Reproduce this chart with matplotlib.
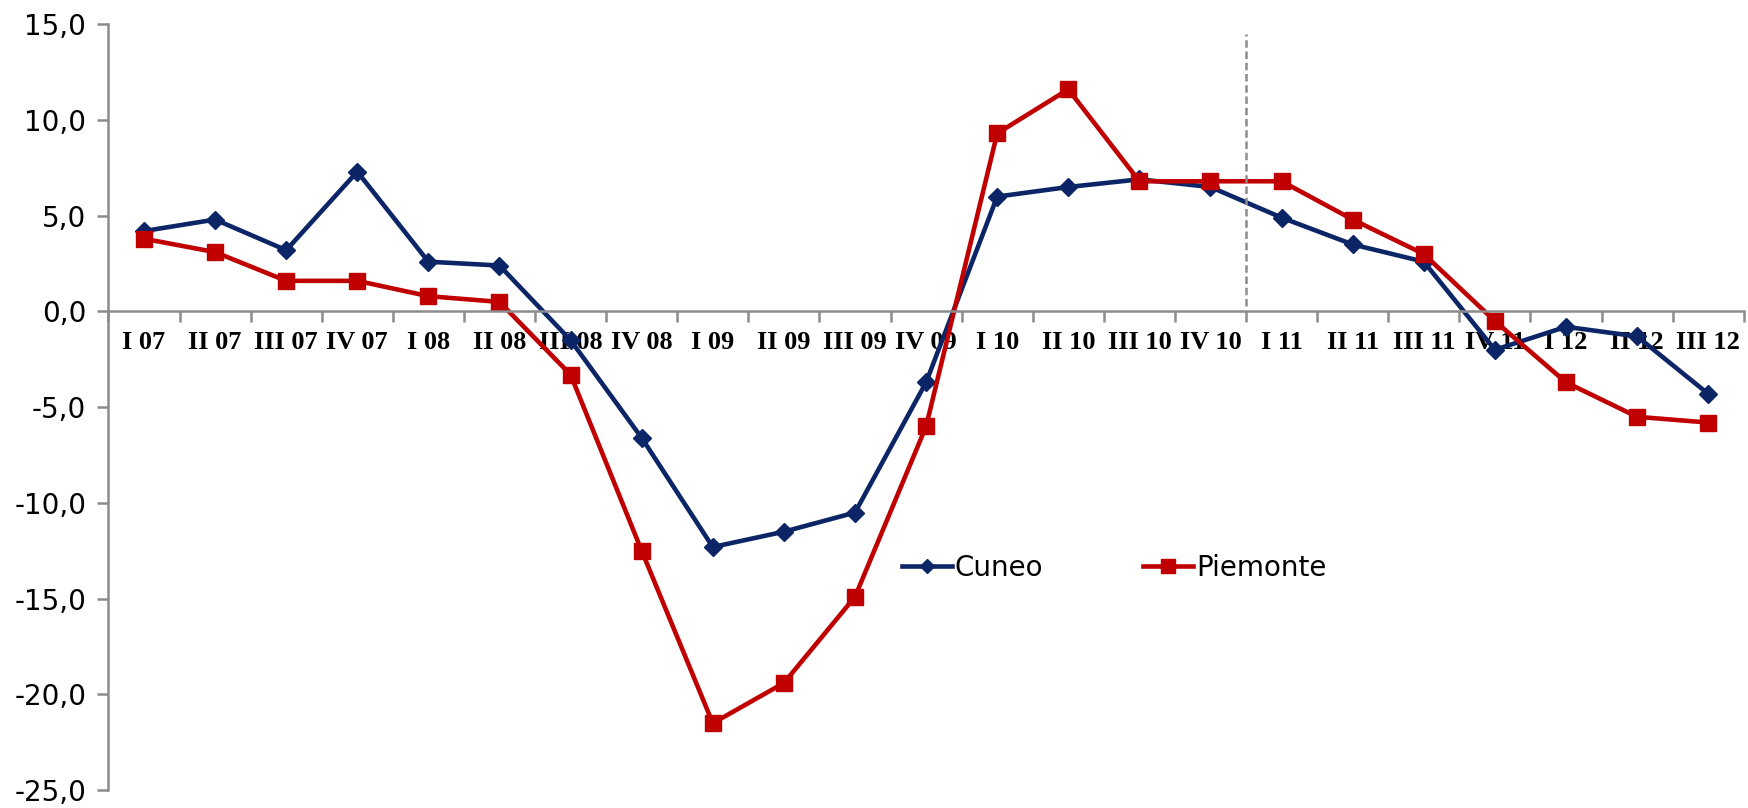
import numpy as np
import matplotlib
matplotlib.use("Agg")
import matplotlib.pyplot as plt
from matplotlib.ticker import FuncFormatter, FixedLocator

quarters = ["I 07", "II 07", "III 07", "IV 07", "I 08", "II 08", "III 08", "IV 08",
            "I 09", "II 09", "III 09", "IV 09", "I 10", "II 10", "III 10", "IV 10",
            "I 11", "II 11", "III 11", "IV 11", "I 12", "II 12", "III 12"]
cuneo = [4.2, 4.8, 3.2, 7.3, 2.6, 2.4, -1.5, -6.6, -12.3, -11.5, -10.5, -3.7,
         6.0, 6.5, 6.9, 6.5, 4.9, 3.5, 2.6, -2.0, -0.8, -1.3, -4.3]
piemonte = [3.8, 3.1, 1.6, 1.6, 0.8, 0.5, -3.3, -12.5, -21.5, -19.4, -14.9, -6.0,
            9.3, 11.6, 6.8, 6.8, 6.8, 4.8, 3.0, -0.5, -3.7, -5.5, -5.8]

navy = "#0b2566"
red = "#c00000"
axis_grey = "#8c8c8c"

fig = plt.figure(figsize=(17.49, 8.08), dpi=100)
ax = fig.add_axes([0.062, 0.022, 0.935, 0.948])

x = np.arange(len(quarters))
ax.plot(x, cuneo, color=navy, lw=3.3, marker="D", ms=9, label="Cuneo")
ax.plot(x, piemonte, color=red, lw=3.3, marker="s", ms=12, label="Piemonte")

# dashed separator between 2010 and 2011
ax.plot([15.5, 15.5], [0.3, 14.5], color=axis_grey, lw=1.8, ls=(0, (3, 1.5)))

ax.set_xlim(-0.5, len(quarters) - 0.5)
ax.set_ylim(-25, 15)
ax.set_yticks(np.arange(-25, 16, 5))
ax.yaxis.set_major_formatter(FuncFormatter(lambda v, p: f"{v:.1f}".replace(".", ",")))

for s in ["top", "right"]:
    ax.spines[s].set_visible(False)
ax.spines["bottom"].set_position(("data", 0))
for s in ["bottom", "left"]:
    ax.spines[s].set_color(axis_grey)
    ax.spines[s].set_linewidth(1.8)

ax.set_xticks(x)
ax.set_xticklabels(quarters, fontfamily="Liberation Serif", fontweight="bold", fontsize=19)
ax.xaxis.set_minor_locator(FixedLocator(np.arange(-0.5, len(quarters), 1.0)))
ax.tick_params(axis="x", which="major", length=0, pad=14)
ax.tick_params(axis="x", which="minor", length=8, width=1.8, color=axis_grey, direction="out")
ax.tick_params(axis="y", length=8, width=1.8, color=axis_grey, labelsize=20, pad=8)

ax.legend(loc="center", bbox_to_anchor=(0.615, 0.29), ncol=2, frameon=False,
          fontsize=20, handlelength=1.8, handletextpad=0.1, columnspacing=3.6,
          markerscale=0.8)

fig.savefig("out.png", dpi=100)
